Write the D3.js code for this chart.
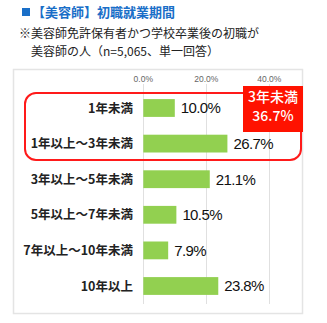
<!DOCTYPE html>
<html>
<head>
<meta charset="utf-8">
<script src="https://cdn.jsdelivr.net/npm/d3@7"></script>
<style>
  body { margin: 0; background: #fff; }
  svg { display: block; }
</style>
</head>
<body>
<div id="chart"></div>
<script>
// data
var categories = ['1年未満', '1年以上～3年未満', '3年以上～5年未満', '5年以上～7年未満', '7年以上～10年未満', '10年以上'];
var values = [10.0, 26.7, 21.1, 10.5, 7.9, 23.8];
var ticks = [0, 20, 40];
var calloutLines = ['3年未満', '36.7%'];

var width = 327, height = 323;
var jp = '"Noto Sans CJK JP", "Noto Sans", sans-serif';

var svg = d3.select('#chart').append('svg')
  .attr('width', width)
  .attr('height', height);

// title
svg.append('rect').attr('x', 22).attr('y', 8).attr('width', 8).attr('height', 8).attr('fill', '#1a6fc8');
svg.append('text')
  .attr('x', 32).attr('y', 17)
  .attr('font-family', jp).attr('font-size', 13).attr('font-weight', 'bold')
  .attr('fill', '#1a6fc8')
  .text('【美容師】初職就業期間');

svg.append('text')
  .attr('x', 19).attr('y', 38)
  .attr('font-family', jp).attr('font-size', 12)
  .attr('fill', '#222')
  .text('※美容師免許保有者かつ学校卒業後の初職が');
svg.append('text')
  .attr('x', 31).attr('y', 56)
  .attr('font-family', jp).attr('font-size', 12)
  .attr('fill', '#222')
  .text('美容師の人（n=5,065、単一回答）');

// chart frame
svg.append('rect')
  .attr('x', 13.5).attr('y', 69.5).attr('width', 289).attr('height', 244)
  .attr('fill', 'none').attr('stroke', '#e4e4e4').attr('stroke-width', 1.5);

var x = d3.scaleLinear().domain([0, 40]).range([143.3, 269.3]);
var y = d3.scaleBand().domain(categories).range([90.2, 303.8]).paddingInner(0.5).paddingOuter(0.25);

// grid lines
svg.selectAll('line.grid').data(ticks).enter().append('line')
  .attr('class', 'grid')
  .attr('x1', function(d) { return Math.round(x(d)) + 0.5; })
  .attr('x2', function(d) { return Math.round(x(d)) + 0.5; })
  .attr('y1', 84).attr('y2', 304)
  .attr('stroke', '#e0e0e0');

// tick labels
svg.selectAll('text.tick').data(ticks).enter().append('text')
  .attr('class', 'tick')
  .attr('x', function(d) { return x(d); })
  .attr('y', 82)
  .attr('text-anchor', 'middle')
  .attr('font-family', 'Liberation Sans, Arial, sans-serif').attr('font-size', 8.5)
  .attr('fill', '#666')
  .text(function(d) { return d.toFixed(1) + '%'; });

// bars
svg.selectAll('rect.bar').data(values).enter().append('rect')
  .attr('class', 'bar')
  .attr('x', x(0))
  .attr('y', function(d, i) { return y(categories[i]); })
  .attr('width', function(d) { return x(d) - x(0); })
  .attr('height', y.bandwidth())
  .attr('fill', '#92d050');

// category labels
svg.selectAll('text.cat').data(categories).enter().append('text')
  .attr('class', 'cat')
  .attr('x', 133)
  .attr('y', function(d) { return y(d) + y.bandwidth() / 2; })
  .attr('dy', '0.36em')
  .attr('text-anchor', 'end')
  .attr('font-family', jp).attr('font-size', 12.5).attr('font-weight', 'bold')
  .attr('fill', '#222')
  .text(function(d) { return d; });

// value labels
svg.selectAll('text.val').data(values).enter().append('text')
  .attr('class', 'val')
  .attr('x', function(d) { return x(d) + 6; })
  .attr('y', function(d, i) { return y(categories[i]) + y.bandwidth() / 2; })
  .attr('dy', '0.36em')
  .attr('font-family', 'Liberation Sans, Arial, sans-serif').attr('font-size', 15)
  .attr('letter-spacing', -0.6)
  .attr('fill', '#111')
  .text(function(d) { return d.toFixed(1) + '%'; });

// red rounded highlight round the first two rows
svg.append('rect')
  .attr('x', 25).attr('y', 93).attr('width', 276).attr('height', 67)
  .attr('rx', 11).attr('ry', 11)
  .attr('fill', 'none').attr('stroke', '#ff1a1a').attr('stroke-width', 2);

// callout
svg.append('rect')
  .attr('x', 243).attr('y', 86).attr('width', 60).attr('height', 46)
  .attr('fill', '#ff1200');
svg.selectAll('text.callout').data(calloutLines).enter().append('text')
  .attr('class', 'callout')
  .attr('x', 273)
  .attr('y', function(d, i) { return 102 + i * 19; })
  .attr('text-anchor', 'middle')
  .attr('font-family', jp).attr('font-size', 14).attr('font-weight', 500)
  .attr('fill', '#fff')
  .text(function(d) { return d; });
</script>
</body>
</html>
